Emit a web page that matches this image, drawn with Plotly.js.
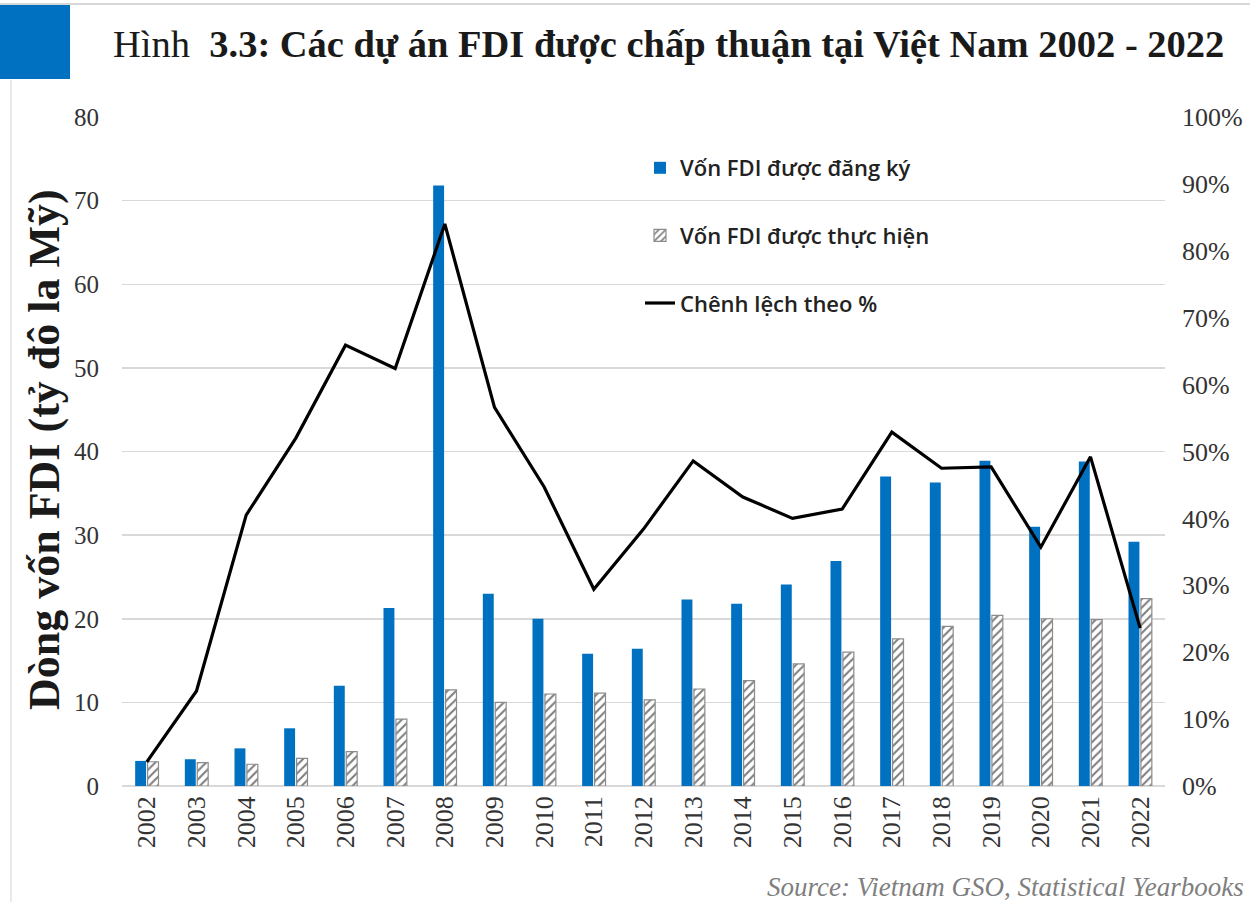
<!DOCTYPE html>
<html>
<head>
<meta charset="utf-8">
<script src="https://cdn.plot.ly/plotly-3.0.1.min.js"></script>
<style>html,body{margin:0;padding:0;background:#fff;}#chart{width:1250px;height:902px;}</style>
</head>
<body>
<div id="chart"></div>
<script>
const years = ['2002','2003','2004','2005','2006','2007','2008','2009','2010','2011','2012','2013','2014','2015','2016','2017','2018','2019','2020','2021','2022'];
const registered = [3.0, 3.2, 4.5, 6.9, 12.0, 21.3, 71.8, 23.0, 20.0, 15.8, 16.4, 22.3, 21.8, 24.1, 26.9, 37.0, 36.3, 38.9, 31.0, 38.8, 29.2];
const implemented = [2.9, 2.8, 2.6, 3.3, 4.1, 8.0, 11.5, 10.0, 11.0, 11.1, 10.3, 11.6, 12.6, 14.6, 16.0, 17.6, 19.1, 20.4, 20.0, 19.9, 22.4];
const gapPct = [3.6, 14.2, 40.5, 52.0, 65.9, 62.4, 84.0, 56.6, 44.7, 29.4, 38.4, 48.6, 43.2, 40.0, 41.4, 52.9, 47.5, 47.7, 35.7, 49.2, 23.6];
const seriesNames = ['Vốn FDI được đăng ký', 'Vốn FDI được thực hiện', 'Chênh lệch theo %'];
const leftTicks = [0,10,20,30,40,50,60,70,80];
const rightTicks = [0,10,20,30,40,50,60,70,80,90,100];
const rightTickLabels = ['0%','10%','20%','30%','40%','50%','60%','70%','80%','90%','100%'];

const serif = 'Liberation Serif, Times New Roman, serif';

const traces = [
  {type:'bar', x:years, y:registered, name:seriesNames[0], legendgroup:'a',
   marker:{color:'#0070C0', line:{width:0}}},
  {type:'bar', x:years, y:implemented, name:seriesNames[1], legendgroup:'b',
   marker:{color:'#ffffff', line:{color:'#8c8c8c', width:1.2},
     pattern:{shape:'/', fgcolor:'#7f7f7f', bgcolor:'#ffffff', size:6, solidity:0.35}}},
  {type:'scatter', mode:'lines', x:years, y:gapPct, name:seriesNames[2], legendgroup:'c',
   yaxis:'y2', line:{color:'#000000', width:3.2}}
];

const pw = 1043, ph = 669, ml = 122, mt = 117;
function px(x){return (x-ml)/pw;}
function py(y){return (mt+ph-y)/ph;}

const layout = {
  width:1250, height:902,
  margin:{l:ml, r:1250-ml-pw, t:mt, b:902-mt-ph},
  paper_bgcolor:'#ffffff', plot_bgcolor:'#ffffff',
  barmode:'group', bargap:0.5, bargroupgap:0.12,
  showlegend:true,
  legend:{x:px(640), y:py(147), xanchor:'left', yanchor:'top', bgcolor:'rgba(0,0,0,0)',
    traceorder:'grouped', tracegroupgap:36,
    font:{family:'Open Sans, sans-serif', size:22, color:'#222', weight:600}},
  title:{text:'Hình  <b>3.3: Các dự án FDI được chấp thuận tại Việt Nam 2002 - 2022</b>',
    xref:'container', yref:'container', x:113/1250, xanchor:'left', y:1-44/902, yanchor:'middle',
    font:{family:serif, size:38.5, color:'#1a1a1a'}},
  xaxis:{type:'category', tickangle:-90, showgrid:false, showline:false, ticks:'',
    ticklabelstandoff:4,
    tickfont:{family:serif, size:26, color:'#333'}},
  yaxis:{range:[0,80], tickvals:leftTicks, showgrid:true, gridcolor:'#d9d9d9', gridwidth:1.5,
    zeroline:true, zerolinecolor:'#d9d9d9', zerolinewidth:1.5, showline:false, ticks:'',
    ticklabelstandoff:22,
    tickfont:{family:serif, size:25, color:'#333'}},
  yaxis2:{overlaying:'y', side:'right', range:[0,100], tickvals:rightTicks, ticktext:rightTickLabels,
    showgrid:false, zeroline:false, showline:false, ticks:'', ticklabelstandoff:16,
    tickfont:{family:serif, size:26, color:'#333'}},
  annotations:[
    {text:'<b>Dòng vốn FDI (tỷ đô la Mỹ)</b>', xref:'paper', yref:'paper', x:px(44), y:py(450),
     xanchor:'center', yanchor:'middle', textangle:-90, showarrow:false,
     font:{family:serif, size:44, color:'#1a1a1a'}},
    {text:'<i>Source: Vietnam GSO, Statistical Yearbooks</i>', xref:'paper', yref:'paper',
     x:px(1246), y:py(887), xanchor:'right', yanchor:'middle', showarrow:false,
     font:{family:serif, size:27, color:'#7f7f7f'}}
  ],
  shapes:[
    {type:'rect', xref:'paper', yref:'paper', x0:px(0), x1:px(70), y0:py(79), y1:py(5),
     fillcolor:'#0070C0', line:{width:0}, layer:'above'},
    {type:'line', xref:'paper', yref:'paper', x0:px(0), x1:px(1250), y0:py(4), y1:py(4),
     line:{color:'#d8d8d8', width:2}},
    {type:'line', xref:'paper', yref:'paper', x0:px(11), x1:px(11), y0:py(80), y1:py(902),
     line:{color:'#e2e2e2', width:1.5}}
  ]
};

Plotly.newPlot('chart', traces, layout, {displayModeBar:false, staticPlot:true});
</script>
</body>
</html>
